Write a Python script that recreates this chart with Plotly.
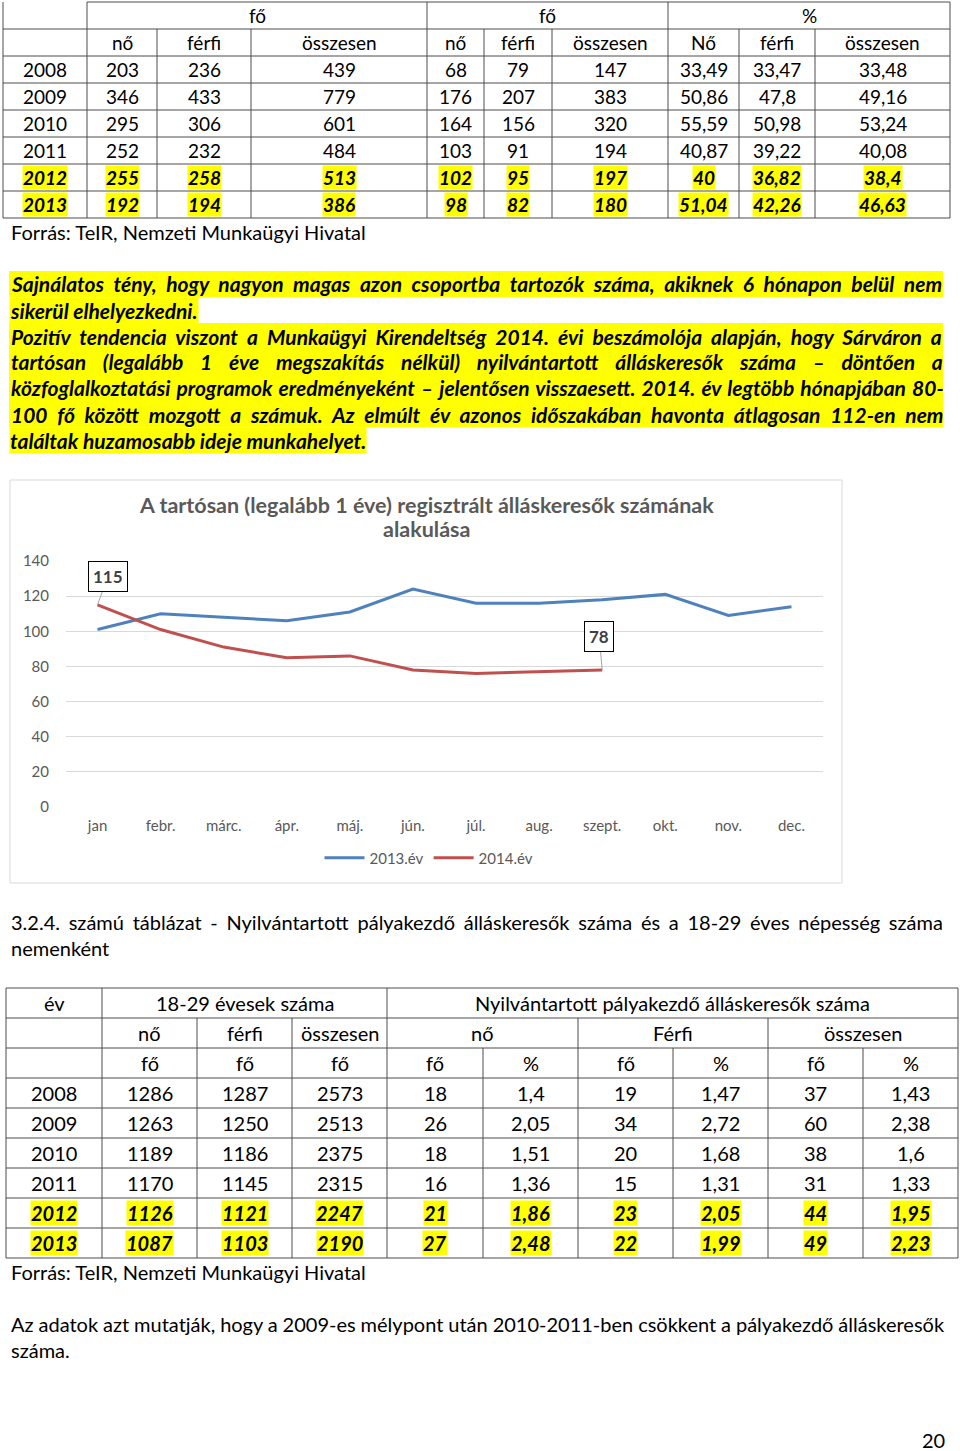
import plotly.graph_objects as go

W, H = 960, 1451

# ---------------- data ----------------
months = ["jan", "febr.", "márc.", "ápr.", "máj.", "jún.", "júl.", "aug.", "szept.", "okt.", "nov.", "dec."]
y2013 = [101, 110, 108, 106, 111, 124, 116, 116, 118, 121, 109, 114]
y2014 = [115, 101, 91, 85, 86, 78, 76, 77, 78]
series_names = ["2013.év", "2014.év"]
chart_title = ["A tartósan (legalább 1 éve) regisztrált álláskeresők számának", "alakulása"]

t1_years = ["2008", "2009", "2010", "2011", "2012", "2013"]
t1_no_a = ["203", "346", "295", "252", "255", "192"]
t1_ferfi_a = ["236", "433", "306", "232", "258", "194"]
t1_ossz_a = ["439", "779", "601", "484", "513", "386"]
t1_no_b = ["68", "176", "164", "103", "102", "98"]
t1_ferfi_b = ["79", "207", "156", "91", "95", "82"]
t1_ossz_b = ["147", "383", "320", "194", "197", "180"]
t1_no_p = ["33,49", "50,86", "55,59", "40,87", "40", "51,04"]
t1_ferfi_p = ["33,47", "47,8", "50,98", "39,22", "36,82", "42,26"]
t1_ossz_p = ["33,48", "49,16", "53,24", "40,08", "38,4", "46,63"]
t1_head1 = ["fő", "fő", "%"]
t1_head2 = ["nő", "férfi", "összesen", "nő", "férfi", "összesen", "Nő", "férfi", "összesen"]

t2_years = ["2008", "2009", "2010", "2011", "2012", "2013"]
t2_no = ["1286", "1263", "1189", "1170", "1126", "1087"]
t2_ferfi = ["1287", "1250", "1186", "1145", "1121", "1103"]
t2_ossz = ["2573", "2513", "2375", "2315", "2247", "2190"]
t2_pno_f = ["18", "26", "18", "16", "21", "27"]
t2_pno_p = ["1,4", "2,05", "1,51", "1,36", "1,86", "2,48"]
t2_pf_f = ["19", "34", "20", "15", "23", "22"]
t2_pf_p = ["1,47", "2,72", "1,68", "1,31", "2,05", "1,99"]
t2_po_f = ["37", "60", "38", "31", "44", "49"]
t2_po_p = ["1,43", "2,38", "1,6", "1,33", "1,95", "2,23"]
t2_head1 = ["év", "18-29 évesek száma", "Nyilvántartott pályakezdő álláskeresők száma"]
t2_head2 = ["nő", "férfi", "összesen", "nő", "Férfi", "összesen"]
t2_head3 = ["fő", "fő", "fő", "fő", "%", "fő", "%", "fő", "%"]

source_text = "Forrás: TeIR, Nemzeti Munkaügyi Hivatal"
para1 = [
    "Sajnálatos tény, hogy nagyon magas azon csoportba tartozók száma, akiknek 6 hónapon belül nem",
    "sikerül elhelyezkedni.",
    "Pozitív tendencia viszont a Munkaügyi Kirendeltség 2014. évi beszámolója alapján, hogy Sárváron a",
    "tartósan (legalább 1 éve megszakítás nélkül) nyilvántartott álláskeresők száma – döntően a",
    "közfoglalkoztatási programok eredményeként – jelentősen visszaesett. 2014. év legtöbb hónapjában 80-",
    "100 fő között mozgott a számuk. Az elmúlt év azonos időszakában havonta átlagosan 112-en nem",
    "találtak huzamosabb ideje munkahelyet.",
]
para2 = ["3.2.4. számú táblázat - Nyilvántartott pályakezdő álláskeresők száma és a 18-29 éves népesség száma",
         "nemenként"]
para3 = ["Az adatok azt mutatják, hogy a 2009-es mélypont után 2010-2011-ben csökkent a pályakezdő álláskeresők",
         "száma."]
page_no = "20"

# ---------------- styling (justification word spacing per line, px) ----------------
para1_wordspace = [4.9, None, 4.4, 12.1, 1.5, 5.1, None]
para2_wordspace = [3.6, None]
para3_wordspace = [-0.2, None]

FONT = "Lato, 'Open Sans', sans-serif"
LINEC = "#4d4d4d"


def X(x):
    return x / W


def Y(y):
    return 1 - y / H


shapes = []
annots = []


def hline(x0, x1, y, color=LINEC, w=1):
    shapes.append(dict(type="line", xref="paper", yref="paper", x0=X(x0), x1=X(x1), y0=Y(y), y1=Y(y),
                       line=dict(color=color, width=w)))


def vline(x, y0, y1, color=LINEC, w=1):
    shapes.append(dict(type="line", xref="paper", yref="paper", x0=X(x), x1=X(x), y0=Y(y0), y1=Y(y1),
                       line=dict(color=color, width=w)))


def text(x, y, s, size=19, anchor="center", hl=False, bold=False, italic=False, color="black", ws=None):
    t = s
    if italic:
        t = "<i>" + t + "</i>"
    if bold:
        t = "<b>" + t + "</b>"
    if ws is not None:
        t = '<span style="word-spacing:%.1fpx">' % ws + t + "</span>"
    a = dict(xref="paper", yref="paper", x=X(x), y=Y(y), text=t, showarrow=False,
             xanchor=anchor, yanchor="middle", font=dict(family=FONT, size=size, color=color))
    if hl:
        a.update(bgcolor="#ffff00", borderpad=0)
    annots.append(a)


# ---------------- table 1 ----------------
t1_x = [3, 87, 157, 251, 427, 484, 552, 668, 739, 815, 950]
t1_y = [2, 29, 56, 83, 110, 137, 164, 191, 218]
hline(87, 950, t1_y[0])
for yy in t1_y[1:]:
    hline(3, 950, yy)
for xx in t1_x:
    if xx in (3, 87, 427, 668, 950):
        vline(xx, t1_y[0], t1_y[-1])
    else:
        vline(xx, t1_y[1], t1_y[-1])

grp = [(87, 427), (427, 668), (668, 950)]
for (a, b), s in zip(grp, t1_head1):
    text((a + b) / 2, (t1_y[0] + t1_y[1]) / 2, s)
for j, s in enumerate(t1_head2):
    text((t1_x[j + 1] + t1_x[j + 2]) / 2, (t1_y[1] + t1_y[2]) / 2, s)

t1_cols = [t1_years, t1_no_a, t1_ferfi_a, t1_ossz_a, t1_no_b, t1_ferfi_b, t1_ossz_b, t1_no_p, t1_ferfi_p, t1_ossz_p]
for r in range(len(t1_years)):
    hl = t1_years[r] in ("2012", "2013")
    yc = (t1_y[r + 2] + t1_y[r + 3]) / 2
    for c, col in enumerate(t1_cols):
        text((t1_x[c] + t1_x[c + 1]) / 2, yc, col[r], hl=hl, bold=hl, italic=hl)

text(9, 232, source_text, size=20, anchor="left")

# ---------------- paragraph 1 (highlighted) ----------------
for k, line in enumerate(para1):
    yc = 284 + 26 * k
    ws = para1_wordspace[k]
    if ws is not None:
        shapes.append(dict(type="rect", xref="paper", yref="paper", x0=X(9), x1=X(943),
                           y0=Y(yc + 13), y1=Y(yc - 13), fillcolor="#ffff00", line=dict(width=0),
                           layer="below"))
        text(9, yc, line, size=21, anchor="left", bold=True, italic=True, ws=ws)
    else:
        text(9, yc, line, size=21, anchor="left", bold=True, italic=True, hl=True)

# ---------------- chart ----------------
shapes.append(dict(type="rect", xref="paper", yref="paper", x0=X(10), x1=X(842), y0=Y(883), y1=Y(480),
                   line=dict(color="#d9d9d9", width=1), fillcolor="rgba(0,0,0,0)"))
for k, line in enumerate(chart_title):
    annots.append(dict(xref="paper", yref="paper", x=X(426), y=Y(505 + 24 * k), text="<b>" + line + "</b>",
                       showarrow=False, xanchor="center", yanchor="middle",
                       font=dict(family=FONT, size=21.5, color="#595959")))

fig = go.Figure()
fig.add_trace(go.Scatter(x=months, y=y2013, mode="lines", name=series_names[0],
                         line=dict(color="#4f81bd", width=3)))
fig.add_trace(go.Scatter(x=months[:len(y2014)], y=y2014, mode="lines", name=series_names[1],
                         line=dict(color="#c0504d", width=3)))

for idx in (0, len(y2014) - 1):
    ax_off, ay_off = (10, -28) if idx == 0 else (-3, -33)
    annots.append(dict(xref="x", yref="y", x=months[idx], y=y2014[idx], text="<b>%d</b>" % y2014[idx],
                       showarrow=True, arrowhead=0, arrowwidth=1, arrowcolor="#a6a6a6",
                       ax=ax_off, ay=ay_off, bgcolor="white", bordercolor="black", borderwidth=1,
                       borderpad=4, font=dict(family=FONT, size=17, color="#404040")))

# ---------------- paragraph 2 ----------------
for k, line in enumerate(para2):
    text(9, 922 + 26 * k, line, size=20, anchor="left", ws=para2_wordspace[k])

# ---------------- table 2 ----------------
t2_x = [6, 102, 197, 292, 387, 483, 578, 673, 768, 863, 958]
t2_y = [988, 1018, 1048, 1078, 1108, 1138, 1168, 1198, 1228, 1258]
for yy in t2_y:
    hline(6, 958, yy)
for xx in t2_x:
    if xx in (6, 102, 387, 958):
        vline(xx, t2_y[0], t2_y[-1])
    elif xx in (197, 292, 578, 768):
        vline(xx, t2_y[1], t2_y[-1])
    else:
        vline(xx, t2_y[2], t2_y[-1])

for (a, b), s in zip([(6, 102), (102, 387), (387, 958)], t2_head1):
    text((a + b) / 2, 1003, s, size=20)
for (a, b), s in zip([(102, 197), (197, 292), (292, 387), (387, 578), (578, 768), (768, 958)], t2_head2):
    text((a + b) / 2, 1033, s, size=20)
for j, s in enumerate(t2_head3):
    text((t2_x[j + 1] + t2_x[j + 2]) / 2, 1063, s, size=20)

t2_cols = [t2_years, t2_no, t2_ferfi, t2_ossz, t2_pno_f, t2_pno_p, t2_pf_f, t2_pf_p, t2_po_f, t2_po_p]
for r in range(len(t2_years)):
    hl = t2_years[r] in ("2012", "2013")
    yc = (t2_y[r + 3] + t2_y[r + 4]) / 2
    for c, col in enumerate(t2_cols):
        text((t2_x[c] + t2_x[c + 1]) / 2, yc, col[r], size=20, hl=hl, bold=hl, italic=hl)

text(9, 1272, source_text, size=20, anchor="left")

for k, line in enumerate(para3):
    text(9, 1324 + 26 * k, line, size=20, anchor="left", ws=para3_wordspace[k])

text(933, 1440, page_no, size=20)

# ---------------- layout ----------------
fig.update_layout(
    width=W, height=H, margin=dict(l=0, r=0, t=0, b=0, pad=0, autoexpand=False),
    paper_bgcolor="white", plot_bgcolor="white",
    font=dict(family=FONT, color="#595959"),
    shapes=shapes, annotations=annots,
    showlegend=True,
    legend=dict(orientation="h", x=X(429), xanchor="center", y=Y(858), yanchor="middle",
                font=dict(family=FONT, size=15, color="#595959"), bgcolor="rgba(0,0,0,0)",
                itemwidth=40),
    xaxis=dict(domain=[X(66), X(823)], type="category", range=[-0.5, 11.5], showgrid=False,
               showline=False, zeroline=False, ticks="", tickfont=dict(size=15, color="#595959"),
               ticklabelstandoff=8, fixedrange=True, automargin=False),
    yaxis=dict(domain=[Y(807), Y(561)], range=[0, 140], dtick=20, showgrid=True, gridcolor="#d9d9d9",
               gridwidth=1, zeroline=False, showline=False, ticks="",
               tickfont=dict(size=15, color="#595959"), ticklabelstandoff=16, fixedrange=True,
               automargin=False),
)

fig.write_html("out.html", config={"displayModeBar": False},
               post_script="document.body.style.margin='0';document.body.style.overflow='hidden';"
                           "document.documentElement.style.overflow='hidden';")
